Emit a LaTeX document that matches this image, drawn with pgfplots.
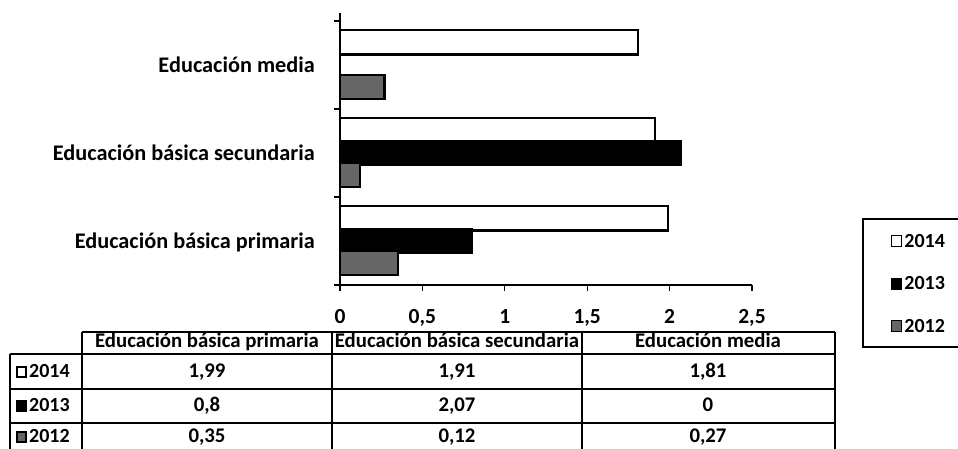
\documentclass[border=0pt]{standalone}
\usepackage{fontspec}
\setmainfont{Carlito}
\usepackage{pgfplots}
\pgfplotsset{compat=1.18}
\newcommand{\fa}{\fontsize{22.3}{26}\selectfont\bfseries}
\newcommand{\fk}{\fontsize{21.5}{25}\selectfont\bfseries}
\newcommand{\ft}{\fontsize{20.8}{25}\selectfont\bfseries}
\newcommand{\fl}{\fontsize{20}{24}\selectfont\bfseries}
\begin{document}
\begin{tikzpicture}[x=1pt,y=1pt]
\useasboundingbox (0,0) rectangle (958,449);
\begin{axis}[
  at={(340pt,164pt)}, anchor=south west,
  scale only axis, width=412pt, height=272pt,
  xbar, bar width=0.28,
  xmin=0, xmax=2.5, ymin=-0.5, ymax=2.591,
  axis lines=left,
  axis line style={-, line width=1.4pt},
  tick align=outside, major tick length=6pt,
  tick style={line width=1.2pt, black},
  xtick={0,0.5,1,1.5,2,2.5},
  xticklabels={0,{0,5},1,{1,5},2,{2,5}},
  xticklabel style={font=\fk, anchor=base, inner sep=0pt, yshift=-33pt},
  ytick={-0.5,0.5,1.5,2.5},
  yticklabels={Educación básica primaria,Educación básica secundaria,Educación media},
  y tick label as interval,
  yticklabel style={font=\fa, anchor=base east, inner sep=0pt, xshift=-19pt, yshift=-8pt},
  legend image code/.code={\draw[#1, line width=1.2pt] (0pt,-5pt) rectangle (10pt,6pt);},
  legend cell align=left,
  legend style={at={(axis description cs:1.2694,0.2426)}, anchor=north west,
    draw=none, fill=none, font=\fl, row sep=24pt, inner xsep=28pt, inner ysep=13pt},
  clip=false,
]
\addplot[draw=black, line width=2.2pt, fill=white, bar shift=0.26] coordinates {(1.99,0) (1.91,1) (1.81,2)};
\addlegendentry{2014}
\addplot[draw=black, line width=2.2pt, fill=black, bar shift=0] coordinates {(0.8,0) (2.07,1) (0,2)};
\addlegendentry{2013}
\addplot[draw=black, line width=2.2pt, fill=black!60, bar shift=-0.25] coordinates {(0.35,0) (0.12,1) (0.27,2)};
\addlegendentry{2012}
\end{axis}
% legend frame
\draw[line width=1.2pt] (863,102) rectangle (970,230);
% data table
\begin{scope}[line width=1.2pt]
\draw (82,117) -- (835,117);
\draw (10,95) -- (835,95);
\draw (10,60) -- (835,60);
\draw (10,26) -- (835,26);
\draw (10,95) -- (10,0);
\foreach \xx in {82,332,582,835} \draw (\xx,117) -- (\xx,0);
\end{scope}
\begin{scope}[every node/.style={font=\ft, inner sep=0pt, anchor=base}]
\node at (207,101) {Educación básica primaria};
\node at (457,101) {Educación básica secundaria};
\node at (708,101) {Educación media};
\node at (207,71) {1,99};
\node at (457,71) {1,91};
\node at (708,71) {1,81};
\node at (207,37) {0,8};
\node at (457,37) {2,07};
\node at (708,37) {0};
\node at (207,6) {0,35};
\node at (457,6) {0,12};
\node at (708,6) {0,27};
\node[anchor=base west, font=\fl] at (29,71) {2014};
\node[anchor=base west, font=\fl] at (29,37) {2013};
\node[anchor=base west, font=\fl] at (29,6) {2012};
\end{scope}
\draw[line width=1.2pt, fill=white] (17,72) rectangle (26,82);
\draw[line width=1.2pt, fill=black] (17,38) rectangle (26,48);
\draw[line width=1.2pt, fill=black!60] (17,7) rectangle (26,17);
\end{tikzpicture}
\end{document}
